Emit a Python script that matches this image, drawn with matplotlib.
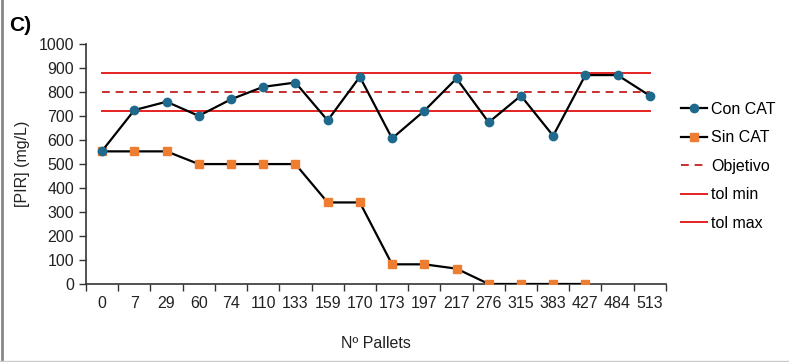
import matplotlib
matplotlib.use("Agg")
import matplotlib.pyplot as plt
from matplotlib.lines import Line2D

plt.rcParams['font.family'] = ['Liberation Sans', 'DejaVu Sans']

categories = ["0", "7", "29", "60", "74", "110", "133", "159", "170", "173",
              "197", "217", "276", "315", "383", "427", "484", "513"]
con_cat = [555, 725, 760, 701, 770, 822, 840, 682, 864, 607,
           722, 857, 674, 785, 618, 871, 871, 785]
sin_cat = [553, 553, 553, 500, 500, 500, 500, 340, 340, 82,
           82, 64, 0, 0, 0, 0, None, None]
objetivo = [800] * len(categories)
tol_min = [720] * len(categories)
tol_max = [880] * len(categories)

fs = 11.5

fig = plt.figure(figsize=(7.89, 3.62), dpi=100)
ax = fig.add_axes([0.109, 0.2155, 0.735, 0.6625])

x = list(range(len(categories)))
red = "#E3231F"
ax.plot(x, tol_max, color=red, lw=1.4, label="tol max", zorder=1)
ax.plot(x, tol_min, color=red, lw=1.4, label="tol min", zorder=1)
ax.plot(x, objetivo, color="#C8302F", lw=1.4, ls=(0, (4, 3)), label="Objetivo", zorder=1)

sx = [i for i, v in zip(x, sin_cat) if v is not None]
sv = [v for v in sin_cat if v is not None]
ax.plot(sx, sv, color="black", lw=1.6, marker="s", ms=6, mfc="#ED7D31",
        mec="#ED7D31", label="Sin CAT", zorder=3)
ax.plot(x, con_cat, color="black", lw=1.6, marker="o", ms=6, mfc="#1F6A8C",
        mec="#1F6A8C", label="Con CAT", zorder=4)

ax.set_xlim(-0.5, len(categories) - 0.5)
ax.set_ylim(0, 1000)
ax.set_yticks(range(0, 1001, 100))
ax.set_xticks(x)
ax.set_xticklabels(categories)
ax.set_xticks([i - 0.5 for i in range(len(categories) + 1)], minor=True)
ax.tick_params(axis="x", which="major", length=0, pad=9, labelsize=fs, colors="#222222")
ax.tick_params(axis="x", which="minor", length=5, direction="out", width=1, color="#333333")
ax.tick_params(axis="y", length=5, direction="out", width=1, color="#333333",
               labelsize=fs, labelcolor="#222222")
for s in ["top", "right"]:
    ax.spines[s].set_visible(False)
for s in ["left", "bottom"]:
    ax.spines[s].set_color("#333333")
    ax.spines[s].set_linewidth(1.2)

ax.set_ylabel("[PIR] (mg/L)", fontsize=fs, color="#222222", labelpad=6)
ax.set_xlabel("Nº Pallets", fontsize=fs, color="#222222", labelpad=18)

handles = [
    Line2D([], [], color="black", lw=1.6, marker="o", ms=6, mfc="#1F6A8C", mec="#1F6A8C"),
    Line2D([], [], color="black", lw=1.6, marker="s", ms=6, mfc="#ED7D31", mec="#ED7D31"),
    Line2D([], [], color="#C8302F", lw=1.4, ls=(0, (4, 3))),
    Line2D([], [], color=red, lw=1.4),
    Line2D([], [], color=red, lw=1.4),
]
labels = ["Con CAT", "Sin CAT", "Objetivo", "tol min", "tol max"]
fig.legend(handles, labels, loc="upper left", bbox_to_anchor=(0.855, 0.737),
           frameon=False, fontsize=fs, handlelength=1.6, handletextpad=0.3,
           labelspacing=0.85, borderaxespad=0)

fig.text(0.011, 0.915, "C)", fontsize=15, fontweight="bold")

fig.add_artist(Line2D([0.002, 0.002], [0.0, 1.0], color="#888888", lw=2.0,
                      transform=fig.transFigure))
fig.add_artist(Line2D([0.0, 1.0], [0.004, 0.004], color="#cccccc", lw=1.0,
                      transform=fig.transFigure))

fig.savefig("out.png", dpi=100)
